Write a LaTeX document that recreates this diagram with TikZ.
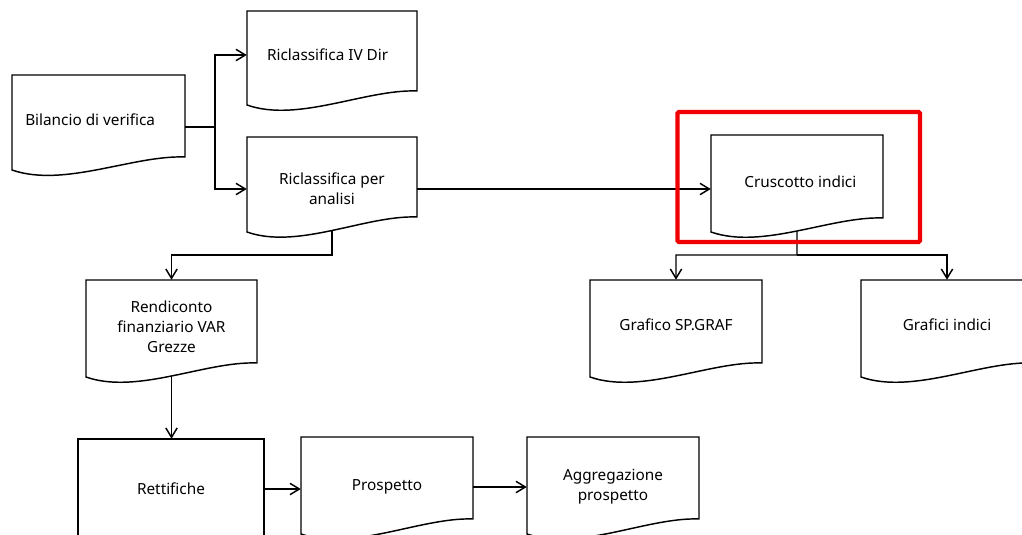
\documentclass[tikz,border=0pt]{standalone}
\usepackage{fontspec}
\setmainfont{Noto Sans}
\usetikzlibrary{arrows.meta,calc}
\tikzset{
  boxline/.style={draw=black, line width=1.1pt, fill=white, line join=miter},
  lbl/.style={draw=none, inner sep=0pt, align=center, font=\fontsize{11.5}{15}\selectfont},
  conn/.style={draw=black, line width=1.1pt},
  arr/.style={conn, -{Straight Barb[length=7pt,width=8.5pt,line width=1.1pt]}},
  hilite/.style={draw={rgb,255:red,240;green,0;blue,0}, line width=3.2pt, rounded corners=1pt}
}
% #1 name, #2 x0, #3 x1, #4 top, #5 yR, #6 yL, #7 text centre y, #8 text
\newcommand\docbox[8]{%
  \path[boxline] (#2,#4) -- (#3,#4) -- (#3,#5)
    .. controls ({#2+0.7*(#3-#2)},{#5-2}) and ({#2+0.3*(#3-#2)},{#6+18}) ..
    coordinate[pos=0.5] (#1-b) (#2,#6) -- cycle;
  \node[lbl, minimum width={(#3-#2)*0.75pt}, minimum height={2*(#7-#4)*0.75pt}]
    (#1) at ({(#2+#3)/2},#7) {#8};
}
\begin{document}
\begin{tikzpicture}[x=0.75pt,y=-0.75pt]
\clip (0,0) rectangle (1022,535);
\fill[white] (0,0) rectangle (1022,535);

\docbox{bil}{12}{185}{75}{157}{170}{120}{Bilancio di verifica\kern12.5pt}
\docbox{ric4}{247}{417}{11}{91}{105}{55}{Riclassifica IV Dir\kern6.5pt}
\docbox{ripa}{247}{417}{137}{217}{232}{189}{Riclassifica per\\analisi}
\docbox{cru}{711}{883}{135}{218}{232}{182}{\kern5pt Cruscotto indici}
\docbox{gsp}{590}{762}{280}{363}{377}{325}{Grafico SP.GRAF}
\docbox{gin}{861}{1033}{280}{363}{377}{325}{Grafici indici}
\docbox{ren}{86}{257}{280}{363}{377}{327}{Rendiconto\\finanziario VAR\\Grezze}
\path[boxline] (78,439) rectangle (264,570);
\node[lbl, minimum width={186*0.75pt}, minimum height={100*0.75pt}] (ret) at (171,489) {Rettifiche};
\docbox{pro}{301}{473}{437}{519}{534}{487}{Prospetto}
\docbox{agg}{527}{699}{437}{519}{534}{487}{Aggregazione\\prospetto}

\coordinate (j1) at (215,127);
\coordinate (j2) at (250,255);
\coordinate (j3) at (797,255);

\draw[conn] (bil.east |- j1) -- (j1);
\draw[arr] (j1) |- (ric4.west);
\draw[arr] (j1) |- (ripa.west);
\draw[arr] (ripa.east) -- (ripa.east -| cru.west);
\draw[arr] (ripa-b) |- (j2) -| (ren.north);
\draw[arr] (cru-b) -- (j3) -| (gsp.north);
\draw[arr] (j3) -| (gin.north);
\draw[arr] (ren-b) -- (ren-b |- ret.north);
\draw[arr] (ret.east) -- (ret.east -| pro.west);
\draw[arr] (pro.east) -- (pro.east -| agg.west);

\draw[hilite] (677.5,112) rectangle (920,242);
\end{tikzpicture}
\end{document}
